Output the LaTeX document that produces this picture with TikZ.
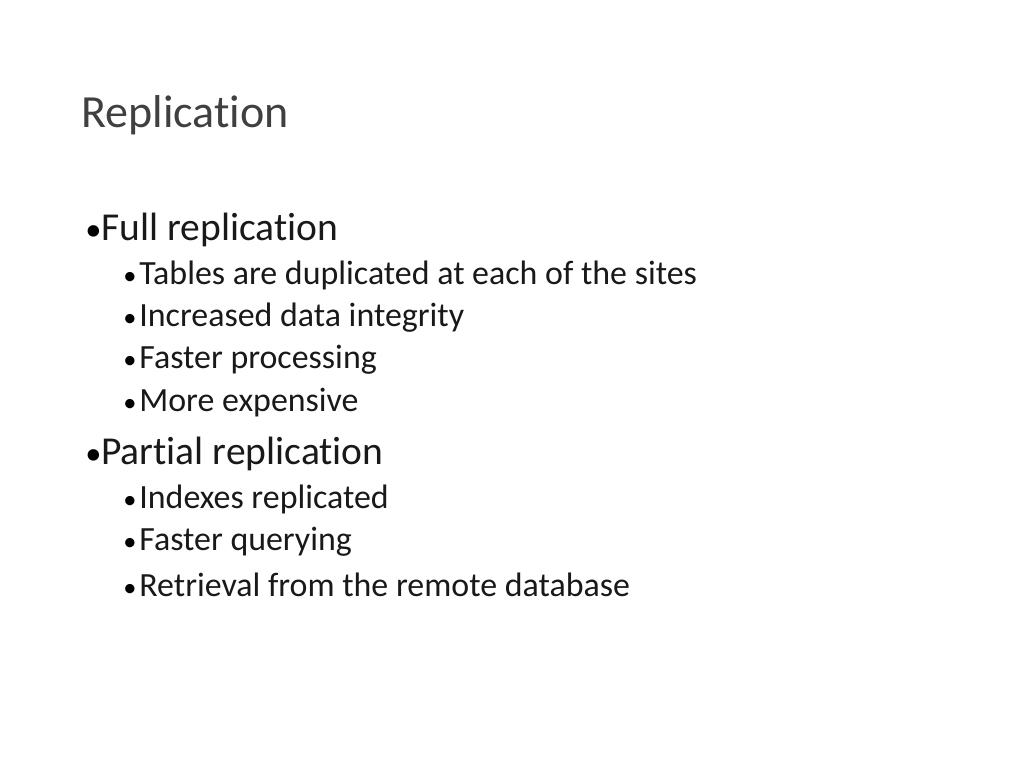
\documentclass[tikz,border=0pt]{standalone}
\usepackage{fontspec}
\setmainfont[Ligatures=NoCommon]{Carlito}
\usetikzlibrary{positioning}
\tikzset{
  title/.style={anchor=west,inner sep=0pt,font=\fontsize{26.2}{30}\selectfont,text=black!75},
  itemA/.style={anchor=west,inner sep=0pt,font=\fontsize{22.5}{26}\selectfont,text=black!90},
  itemB/.style={anchor=west,inner sep=0pt,font=\fontsize{19.3}{22}\selectfont,text=black!90},
  dotA/.style={anchor=base west,inner sep=0pt,font=\fontsize{18.5}{22}\selectfont},
  dotB/.style={anchor=base west,inner sep=0pt,font=\fontsize{15}{18}\selectfont}
}
\begin{document}
\begin{tikzpicture}[x=0.02cm,y=-0.02cm]
  \useasboundingbox[fill=white] (0,0) rectangle (1024,768);
  \node[title] (head) at (81,115) {Replication};
  % full replication
  \node[itemA] (full) at (101,230) {Full replication};
  \node[dotA] at (full.base -| 85,0) {\textbullet};
  \node[itemB] (f1) at (139,275) {Tables are duplicated at each of the sites};
  \node[dotB] at (f1.base -| 123,0) {\textbullet};
  \node[itemB] (f2) at (139,318) {Increased data integrity};
  \node[dotB] at (f2.base -| 123,0) {\textbullet};
  \node[itemB] (f3) at (139,360) {Faster processing};
  \node[dotB] at (f3.base -| 123,0) {\textbullet};
  \node[itemB] (f4) at (139,403) {More expensive};
  \node[dotB] at (f4.base -| 123,0) {\textbullet};
  % partial replication
  \node[itemA] (part) at (101,454) {Partial replication};
  \node[dotA] at (part.base -| 85,0) {\textbullet};
  \node[itemB] (p1) at (139,499) {Indexes replicated};
  \node[dotB] at (p1.base -| 123,0) {\textbullet};
  \node[itemB] (p2) at (139,542) {Faster querying};
  \node[dotB] at (p2.base -| 123,0) {\textbullet};
  \node[itemB] (p3) at (139,585) {Retrieval from the remote database};
  \node[dotB] at (p3.base -| 123,0) {\textbullet};
\end{tikzpicture}
\end{document}
